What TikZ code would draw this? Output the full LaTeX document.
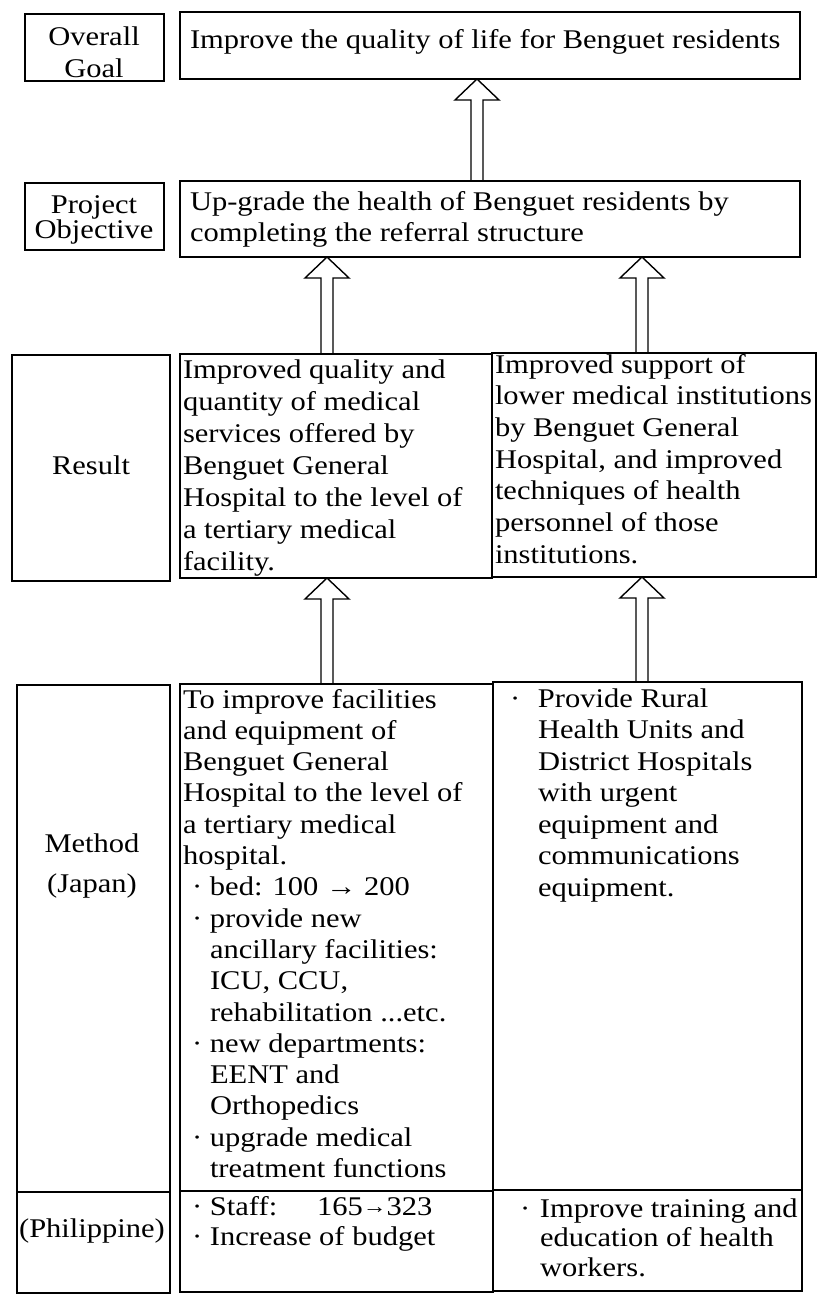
\documentclass[tikz,border=0pt]{standalone}
\usepackage{fontspec}
\setmainfont{Liberation Serif}[FakeStretch=1.13]
\usetikzlibrary{calc}
\newcommand\fs[1]{\fontsize{27}{#1}\selectfont}
\newcommand\tl[3]{\parbox[t]{#1}{\raggedright\fs{#2}#3}}
\newcommand\tc[3]{\parbox[t]{#1}{\centering\fs{#2}#3}}
\newcommand\bu[1]{\makebox[#1][l]{·}}
\tikzset{
  box/.style={draw, line width=1.6pt, inner sep=0pt, outer sep=0pt, anchor=north west},
  txt/.style={anchor=base west, inner sep=0pt, outer sep=0pt},
  lbl/.style={anchor=base, inner sep=0pt, outer sep=0pt},
  hollow/.style={line width=1.4pt, line join=miter,
    to path={let \p1=(\tikztostart), \p2=(\tikztotarget) in
      (\x1-6pt,\y1) -- (\x1-6pt,\y2-21pt) -- (\x1-22pt,\y2-21pt) -- (\x1,\y2)
      -- (\x1+22pt,\y2-21pt) -- (\x1+6pt,\y2-21pt) -- (\x1+6pt,\y1)}}
}
\begin{document}
\begin{tikzpicture}[x=1pt,y=-1pt]
\useasboundingbox (0,0) rectangle (819,1299);
% boxes
\node[box, minimum width=139pt, minimum height=67pt] (lgoal) at (25,14) {};
\node[box, minimum width=620pt, minimum height=67pt] (goal) at (180,12) {};
\node[box, minimum width=139pt, minimum height=67pt] (lobj) at (25,183) {};
\node[box, minimum width=620pt, minimum height=76pt] (obj) at (180,181) {};
\node[box, minimum width=158pt, minimum height=226pt] (lres) at (12,355) {};
\node[box, minimum width=312pt, minimum height=224pt] (resL) at (180,354) {};
\node[box, minimum width=324pt, minimum height=224pt] (resR) at (492,353) {};
\node[box, minimum width=153pt, minimum height=507pt] (lmeth) at (17,685) {};
\node[box, minimum width=153pt, minimum height=101pt] (lphil) at (17,1192) {};
\node[box, minimum width=313pt, minimum height=507pt] (methL) at (180,684) {};
\node[box, minimum width=313pt, minimum height=101pt] (philL) at (180,1191) {};
\node[box, minimum width=309pt, minimum height=508pt] (methR) at (493,682) {};
\node[box, minimum width=309pt, minimum height=101pt] (philR) at (493,1190) {};
% labels
\node[lbl] (tlgoal) at (94,45) {\tc{150pt}{32}{Overall\\Goal}};
\node[lbl] (tlobj) at (94,213) {\tc{150pt}{24}{Project\\Objective}};
\node[lbl] (tlres) at (91,474) {\tc{150pt}{30}{Result}};
\node[lbl] (tlmeth) at (92,852) {\tc{150pt}{40}{Method\\(Japan)}};
\node[lbl] (tlphil) at (92,1237) {\tc{160pt}{30}{(Philippine)}};
% texts
\node[txt] (tgoal) at (190,48) {\tl{620pt}{30}{Improve the quality of life for Benguet residents}};
\node[txt] (tobj) at (190,210) {\tl{620pt}{31}{Up-grade the health of Benguet residents by\\completing the referral structure}};
\node[txt] (tresL) at (183,378) {\tl{320pt}{32}{Improved quality and\\quantity of medical\\services offered by\\Benguet General\\Hospital to the level of\\a tertiary medical\\facility.}};
\node[txt] (tresR) at (495,373) {\tl{330pt}{31.7}{Improved support of\\lower medical institutions\\by Benguet General\\Hospital, and improved\\techniques of health\\personnel of those\\institutions.}};
\node[txt] (tmethL) at (183,708) {\tl{320pt}{31.3}{To improve facilities\\and equipment of\\Benguet General\\Hospital to the level of\\a tertiary medical\\hospital.\\
\hspace*{9pt}\bu{18pt}bed: 100 → 200\\
\hspace*{9pt}\bu{18pt}provide new\\
\hspace*{27pt}ancillary facilities:\\
\hspace*{27pt}ICU, CCU,\\
\hspace*{27pt}rehabilitation ...etc.\\
\hspace*{9pt}\bu{18pt}new departments:\\
\hspace*{27pt}EENT and\\
\hspace*{27pt}Orthopedics\\
\hspace*{9pt}\bu{18pt}upgrade medical\\
\hspace*{27pt}treatment functions}};
\node[txt] (tmethR) at (510,707) {\tl{300pt}{31.5}{\bu{28pt}Provide Rural\\
\hspace*{28pt}Health Units and\\
\hspace*{28pt}District Hospitals\\
\hspace*{28pt}with urgent\\
\hspace*{28pt}equipment and\\
\hspace*{28pt}communications\\
\hspace*{28pt}equipment.}};
\node[txt] (tphilL) at (192,1215) {\tl{300pt}{30}{\bu{18pt}Staff:\hspace{40pt}165\raisebox{2pt}{\fontsize{21}{21}\selectfont→}323\\
\bu{18pt}Increase of budget}};
\node[txt] (tphilR) at (520,1217) {\tl{300pt}{29.5}{\bu{20pt}Improve training and\\
\hspace*{20pt}education of health\\
\hspace*{20pt}workers.}};
% arrows
\coordinate (a1) at (477,0);
\coordinate (a2) at (327,0);
\coordinate (a3) at (642,0);
\draw[hollow] (obj.north -| a1) to (goal.south -| a1);
\draw[hollow] (resL.north -| a2) to (obj.south -| a2);
\draw[hollow] (resR.north -| a3) to (obj.south -| a3);
\draw[hollow] (methL.north -| a2) to (resL.south -| a2);
\draw[hollow] (methR.north -| a3) to (resR.south -| a3);
\end{tikzpicture}
\end{document}
